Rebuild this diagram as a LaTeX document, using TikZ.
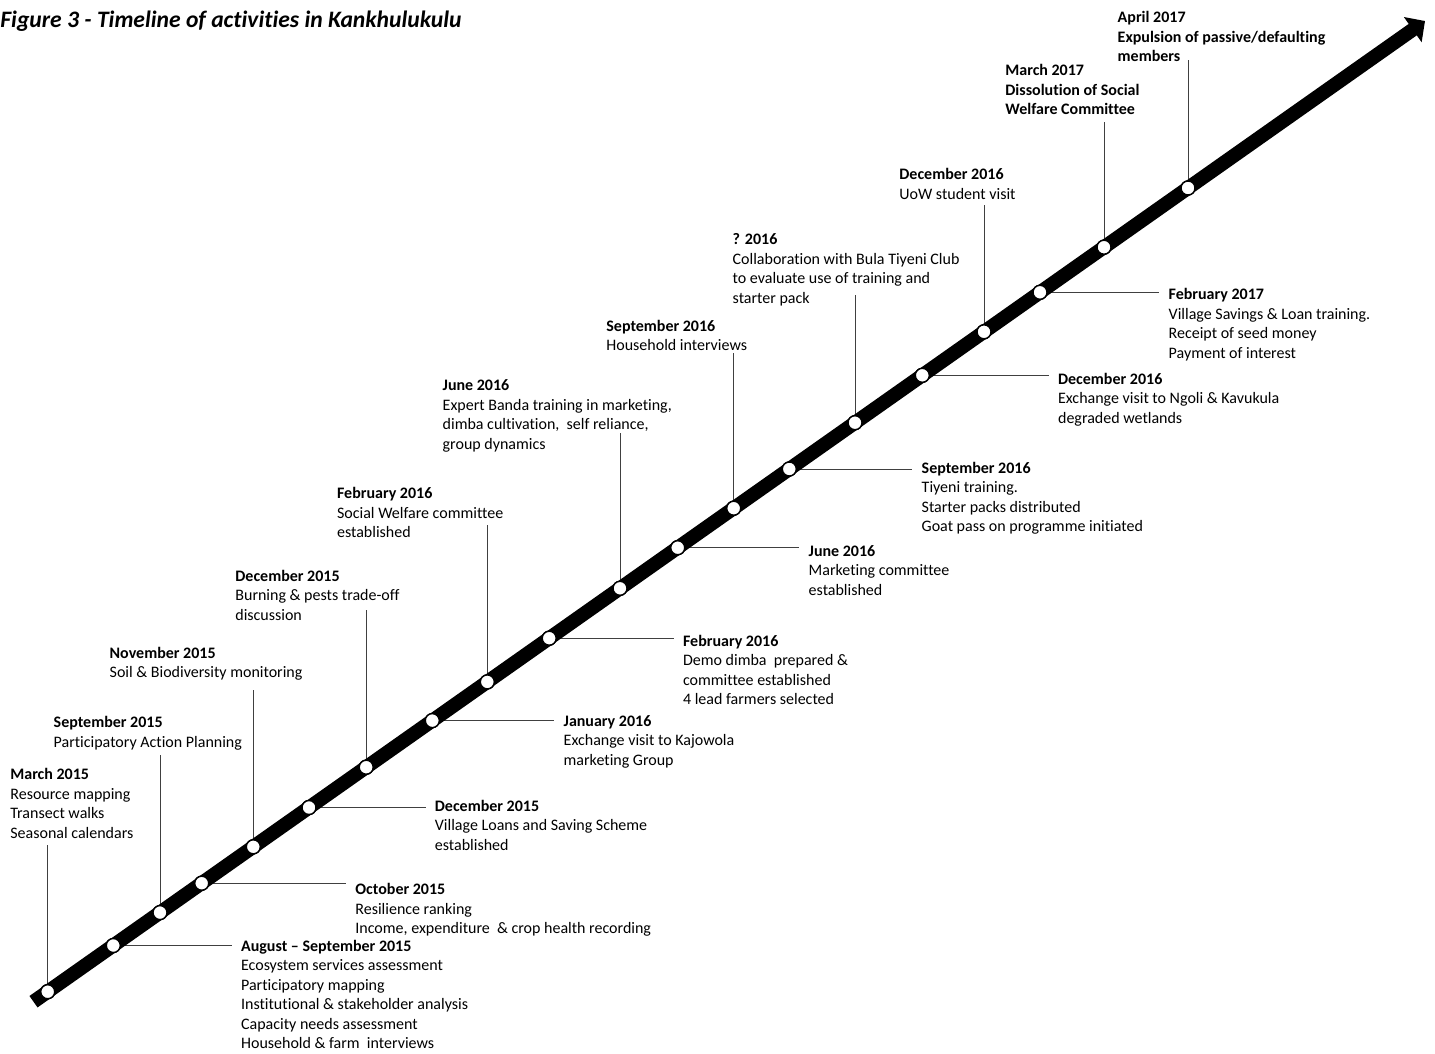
\documentclass[tikz,border=0pt]{standalone}
\usepackage{fontspec}
\setmainfont{Carlito}[Ligatures=NoCommon]
\usepackage{tikz}
\usetikzlibrary{positioning,arrows.meta}

\begin{document}
\begin{tikzpicture}[x=0.5pt,y=-0.5pt]
\tikzset{milestone/.style={circle,draw=black,fill=white,line width=0.7pt,minimum size=7pt,inner sep=0pt}}
\tikzset{event/.style={anchor=base west,align=left,inner sep=0pt,font=\fontsize{8}{9.75}\selectfont}}
\tikzset{boldevent/.style={event,font=\fontsize{8}{9.75}\selectfont\bfseries}}
\tikzset{tick/.style={draw=black!75,line width=0.5pt}}
\tikzset{sidetick/.style={tick,shorten >=4.5pt}}
\useasboundingbox (0,0) rectangle (1435,1054);

\node[anchor=base west,inner sep=0pt,font=\fontsize{11.8}{14}\selectfont\bfseries\itshape] (title) at (0,28) {Figure 3 - Timeline of activities in Kankhulukulu};

\coordinate (start) at (33.5,1001.7);
\coordinate (end) at (1425,21);

\node[milestone] (m1) at (47.7,991.7) {};
\node[milestone] (m2) at (113.3,945.5) {};
\node[milestone] (m3) at (160,912.6) {};
\node[milestone] (m4) at (201.7,883.2) {};
\node[milestone] (m5) at (253.3,846.8) {};
\node[milestone] (m6) at (309,807.5) {};
\node[milestone] (m7) at (366.2,767.2) {};
\node[milestone] (m8) at (432.3,720.6) {};
\node[milestone] (m9) at (487.3,681.9) {};
\node[milestone] (m10) at (549.2,638.2) {};
\node[milestone] (m11) at (620,588.3) {};
\node[milestone] (m12) at (677.7,547.7) {};
\node[milestone] (m13) at (733.7,508.2) {};
\node[milestone] (m14) at (789.3,469) {};
\node[milestone] (m15) at (855,422.7) {};
\node[milestone] (m16) at (922.3,375.3) {};
\node[milestone] (m17) at (984,331.8) {};
\node[milestone] (m18) at (1040,292.3) {};
\node[milestone] (m19) at (1104,247.2) {};
\node[milestone] (m20) at (1188,188) {};

\node[event] (e1) at (10,838) {\textbf{March 2015}\\Resource mapping\\Transect walks\\Seasonal calendars};
\node[event] (e2) at (240.7,1048.7) {\textbf{August – September 2015}\\Ecosystem services assessment\\Participatory mapping\\Institutional \& stakeholder analysis\\Capacity needs assessment\\Household \& farm\ \ interviews};
\node[event] (e3) at (53.3,747) {\textbf{September 2015}\\Participatory Action Planning};
\node[event] (e4) at (355,933.5) {\textbf{October 2015}\\Resilience ranking\\Income, expenditure\ \ \& crop health recording};
\node[event] (e5) at (109.3,677.5) {\textbf{November 2015}\\Soil \& Biodiversity monitoring};
\node[event] (e6) at (434.5,850) {\textbf{December 2015}\\Village Loans and Saving Scheme\\established};
\node[event] (e7) at (235,620) {\textbf{December 2015}\\Burning \& pests trade-off\\discussion};
\node[event] (e8) at (563.3,765) {\textbf{January 2016}\\Exchange visit to Kajowola\\marketing Group};
\node[event] (e9) at (336.7,537.5) {\textbf{February 2016}\\Social Welfare committee\\established};
\node[event] (e10) at (682.7,704.5) {\textbf{February 2016}\\Demo dimba\ \ prepared \&\\committee established\\4 lead farmers selected};
\node[event] (e11) at (442.3,449) {\textbf{June 2016}\\Expert Banda training in marketing,\\dimba cultivation,\ \ self reliance,\\group dynamics};
\node[event] (e12) at (808.3,595) {\textbf{June 2016}\\Marketing committee\\established};
\node[event] (e13) at (606,350.5) {\textbf{September 2016}\\Household interviews};
\node[event] (e14) at (921.3,531.5) {\textbf{September 2016}\\Tiyeni training.\\Starter packs distributed\\Goat pass on programme initiated};
\node[event] (e15) at (732.3,303) {\textbf{? 2016}\\Collaboration with Bula Tiyeni Club\\to evaluate use of training and\\starter pack};
\node[event] (e16) at (1057.7,423) {\textbf{December 2016}\\Exchange visit to Ngoli \& Kavukula\\degraded wetlands};
\node[event] (e17) at (899,199) {\textbf{December 2016}\\UoW student visit};
\node[event] (e18) at (1168.3,358) {\textbf{February 2017}\\Village Savings \& Loan training.\\Receipt of seed money\\Payment of interest};
\node[boldevent] (e19) at (1005,115) {March 2017\\Dissolution of Social\\Welfare Committee};
\node[boldevent] (e20) at (1117.3,62) {April 2017\\Expulsion of passive/defaulting\\members};

\coordinate (t1) at (47.7,845);
\coordinate (t3) at (160,755);
\coordinate (t5) at (253.3,690);
\coordinate (t7) at (366.2,610);
\coordinate (t9) at (487.3,525);
\coordinate (t11) at (620,433);
\coordinate (t13) at (733.7,353);
\coordinate (t15) at (855,295);
\coordinate (t17) at (984,205);
\coordinate (t19) at (1104,122);
\coordinate (t20) at (1188,60);

\draw[tick] (m1.center) -- (t1);
\draw[tick] (m3.center) -- (t3);
\draw[tick] (m5.center) -- (t5);
\draw[tick] (m7.center) -- (t7);
\draw[tick] (m9.center) -- (t9);
\draw[tick] (m11.center) -- (t11);
\draw[tick] (m13.center) -- (t13);
\draw[tick] (m15.center) -- (t15);
\draw[tick] (m17.center) -- (t17);
\draw[tick] (m19.center) -- (t19);
\draw[tick] (m20.center) -- (t20);

\draw[sidetick] (m2.center) -- (m2 -| e2.west);
\draw[sidetick] (m4.center) -- (m4 -| e4.west);
\draw[sidetick] (m6.center) -- (m6 -| e6.west);
\draw[sidetick] (m8.center) -- (m8 -| e8.west);
\draw[sidetick] (m10.center) -- (m10 -| e10.west);
\draw[sidetick] (m12.center) -- (m12 -| e12.west);
\draw[sidetick] (m14.center) -- (m14 -| e14.west);
\draw[sidetick] (m16.center) -- (m16 -| e16.west);
\draw[sidetick] (m18.center) -- (m18 -| e18.west);

\draw[line width=7pt,-{Triangle[length=7.5pt,width=15pt]}] (start) -- (end);

\foreach \i in {1,...,20}
  \node[milestone] at (m\i) {};
\end{tikzpicture}
\end{document}
